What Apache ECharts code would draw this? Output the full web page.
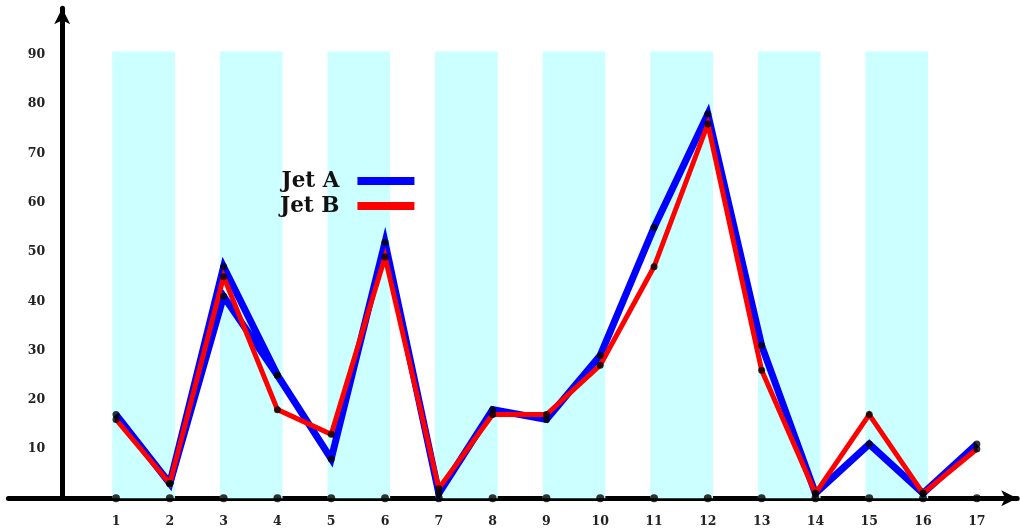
<!DOCTYPE html>
<html>
<head>
<meta charset="utf-8">
<script src="https://cdn.jsdelivr.net/npm/echarts@6/dist/echarts.min.js"></script>
<style>
html,body{margin:0;padding:0;background:#fff;}
#chart{width:1020px;height:531px;}
</style>
</head>
<body>
<div id="chart"></div>
<script>
// ---- data ----
const categories = [1,2,3,4,5,6,7,8,9,10,11,12,13,14,15,16,17];
const jetA = [17,3,47,25,8,52,1,18,16,29,55,78,31,1,11,1,11];
const jetA2 = [null,3,41,25,null,null,null,null,null,null,null,null,null,null,null,null,null];
const jetB = [16,3,45,18,13,49,2,17,17,27,47,76,26,1,17,1,10];
const bandStarts = [1,3,5,7,9,11,13,15];
const yTicks = [10,20,30,40,50,60,70,80,90];

const pairs = arr => categories.map((c,i)=>[c, arr[i]]).filter(p=>p[1]!==null);

const chart = echarts.init(document.getElementById('chart'), null, {renderer:'canvas'});
const tickFont = {fontFamily:'DejaVu Serif', fontWeight:'bold', fontSize:12.5, color:'#222'};

const dotPts = [].concat(pairs(jetA), pairs(jetA2), pairs(jetB));

const gridLeft = 8.4, unitPx = 53.8;

chart.setOption({
  animation:false,
  backgroundColor:'#ffffff',
  grid:{left:gridLeft, right:2.8, top:8.2, bottom:32.7, containLabel:false, outerBoundsMode:'none'},
  xAxis:{
    type:'value', min:-1, max:17.75, interval:1,
    axisLine:{onZero:true, lineStyle:{color:'#000', width:5}, symbol:['none','arrow'], symbolSize:[12,16]},
    axisTick:{show:false}, splitLine:{show:false},
    axisLabel:Object.assign({margin:17, formatter:v=>(categories.indexOf(v)>=0? String(v):'')}, tickFont)
  },
  yAxis:{
    type:'value', min:0, max:99.5, interval:10, offset:-unitPx,
    axisLine:{onZero:false, lineStyle:{color:'#000', width:5}, symbol:['none','arrow'], symbolSize:[12,16]},
    axisTick:{show:false}, splitLine:{show:false},
    axisLabel:Object.assign({margin:17, formatter:v=>(yTicks.indexOf(v)>=0? String(v):'')}, tickFont)
  },
  legend:{
    orient:'vertical', left:280, top:170, align:'right', padding:0,
    itemWidth:57, itemHeight:8, itemGap:3, itemTextGap:5,
    data:[{name:'Jet A', icon:'rect'},{name:'Jet B', icon:'rect'}],
    textStyle:{fontFamily:'DejaVu Serif', fontWeight:'bold', fontSize:21.5, color:'#111', lineHeight:20, width:58, padding:[0,13,0,0]}
  },
  series:[
    {
      name:'bands', type:'line', data:[], z:0, silent:true,
      markArea:{silent:true, itemStyle:{color:'#ccffff'},
        data: bandStarts.map(s=>[{xAxis:s-0.07, yAxis:0},{xAxis:s+1.095, yAxis:90.7}])}
    },
    {
      name:'Jet A', type:'line', data:pairs(jetA), showSymbol:false, z:2,
      color:'#0000ff',
      lineStyle:{color:'#0000ff', width:7, join:'miter', miterLimit:10}
    },
    {
      name:'Jet A ', type:'line', data:jetA2.map((v,i)=>[categories[i], v]), showSymbol:false, z:2,
      connectNulls:false, color:'#0000ff',
      lineStyle:{color:'#0000ff', width:7, join:'miter', miterLimit:10}
    },
    {
      name:'Jet B', type:'line', data:pairs(jetB), showSymbol:false, z:3,
      color:'#ff0000',
      lineStyle:{color:'#ff0000', width:5, join:'miter', miterLimit:10}
    },
    {
      name:'points', type:'scatter', data:dotPts, symbol:'circle', symbolSize:7, z:5,
      itemStyle:{color:'#000'}
    },
    {
      name:'ticks', type:'scatter', data:categories.map(c=>[c,0]), symbol:'circle', symbolSize:8, z:6,
      itemStyle:{color:'#000'}, clip:false
    }
  ]
});
</script>
</body>
</html>
